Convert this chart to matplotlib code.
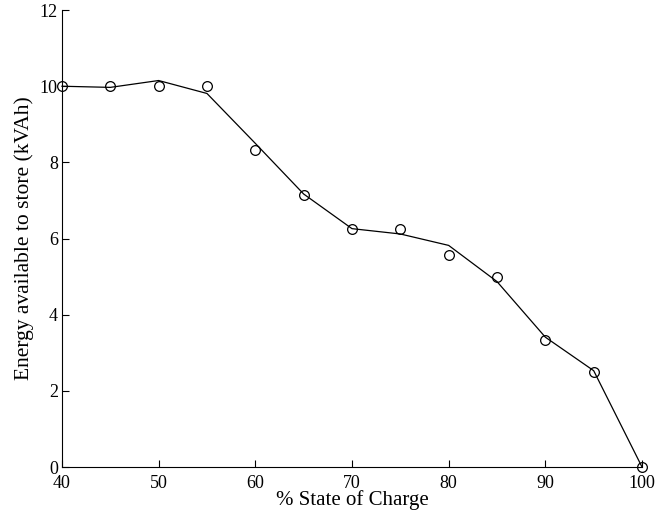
import matplotlib
matplotlib.use("Agg")
import matplotlib.pyplot as plt

soc = [40, 45, 50, 55, 60, 65, 70, 75, 80, 85, 90, 95, 100]
energy_measured = [10.0, 10.0, 10.0, 10.0, 8.33, 7.14, 6.25, 6.25, 5.56, 5.0, 3.33, 2.5, 0.0]
energy_fit = [10.0, 9.97, 10.15, 9.81, 8.5, 7.17, 6.26, 6.12, 5.82, 4.87, 3.41, 2.53, 0.0]
xticks = [40, 50, 60, 70, 80, 90, 100]
yticks = [0, 2, 4, 6, 8, 10, 12]

plt.rcParams['font.family'] = ['Liberation Serif', 'DejaVu Serif']

fig = plt.figure(figsize=(6.66, 5.14), dpi=100)
ax = fig.add_axes([0.093, 0.0914, 0.871, 0.889])
ax.plot(soc, energy_fit, color='black', linewidth=0.9, clip_on=False)
ax.plot(soc, energy_measured, linestyle='none', marker='o', markersize=7,
        markerfacecolor='none', markeredgecolor='black', markeredgewidth=0.9,
        clip_on=False, zorder=3)
ax.set_xlim(40, 100)
ax.set_ylim(0, 12)
ax.set_xticks(xticks)
ax.set_yticks(yticks)
ax.spines['top'].set_visible(False)
ax.spines['right'].set_visible(False)
ax.tick_params(direction='in', length=5, width=0.8, labelsize=13)
ax.tick_params(axis='x', pad=5.5)
ax.tick_params(axis='y', pad=3)
ax.set_xlabel('% State of Charge', fontsize=15, labelpad=-1)
ax.set_ylabel('Energy available to store (kVAh)', fontsize=15.5, labelpad=4)
fig.savefig('out.png', dpi=100)
